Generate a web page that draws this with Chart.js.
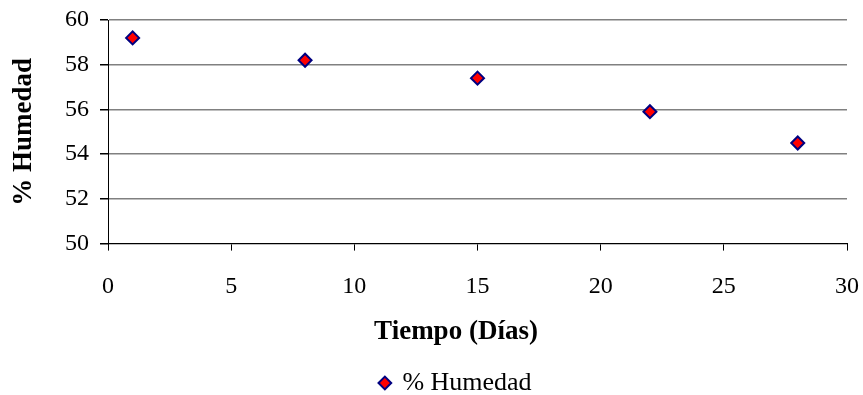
<!DOCTYPE html>
<html lang="es">
<head>
<meta charset="UTF-8">
<script src="https://cdn.jsdelivr.net/npm/chart.js"></script>
<style>
    html, body { margin: 0; padding: 0; background: #fff; }
    #wrap { position: relative; width: 863px; height: 395px; }
</style>
</head>
<body>
<div id="wrap"><canvas id="chart"></canvas></div>
<script>
    // datos
    const dias = [1, 8, 15, 22, 28];
    const humedad = [59.2, 58.2, 57.4, 55.9, 54.5];
    const xTicks = [0, 5, 10, 15, 20, 25, 30];
    const yTicks = [50, 52, 54, 56, 58, 60];

    const serif = '"Liberation Serif", "Times New Roman", serif';

    // el area del grafico queda fija: x 108..847, y 20..243
    const noPad = s => { s.paddingLeft = s.paddingRight = s.paddingTop = s.paddingBottom = 0; };

    new Chart(document.getElementById('chart'), {
        type: 'scatter',
        data: {
            datasets: [{
                label: '% Humedad',
                data: dias.map((d, i) => ({ x: d, y: humedad[i] })),
                pointStyle: 'rectRot',
                pointRadius: 6.5,
                pointHoverRadius: 6.5,
                backgroundColor: '#ff0000',
                borderColor: '#000080',
                borderWidth: 2
            }]
        },
        options: {
            responsive: true,
            maintainAspectRatio: false,
            animation: false,
            layout: { padding: { top: 20, right: 16, left: 65, bottom: -11 } },
            scales: {
                x: {
                    type: 'linear',
                    min: 0, max: 30,
                    afterBuildTicks: s => { s.ticks = xTicks.map(v => ({ value: v })); },
                    afterFit: s => { s.height = 60; noPad(s); },
                    grid: { drawOnChartArea: false, drawTicks: true, tickLength: 7, color: '#000' },
                    border: { color: '#000', width: 1 },
                    ticks: { color: '#000', font: { family: serif, size: 24 }, padding: 22, maxRotation: 0 }
                },
                y: {
                    min: 50, max: 60,
                    afterBuildTicks: s => { s.ticks = yTicks.map(v => ({ value: v })); },
                    afterFit: s => { s.width = 43; noPad(s); },
                    grid: { color: '#808080', lineWidth: 1.5, drawTicks: true, tickLength: 8, tickColor: '#000' },
                    border: { color: '#000', width: 1 },
                    ticks: { color: '#000', font: { family: serif, size: 24 }, padding: 11 },
                    title: {
                        display: true, text: '% Humedad', color: '#000',
                        font: { family: serif, size: 27, weight: 'bold' },
                        padding: { top: -57, bottom: 0 }
                    }
                }
            },
            plugins: {
                title: {
                    display: true,
                    position: 'bottom',
                    weight: 500,
                    text: 'Tiempo (Días)',
                    color: '#000',
                    font: { family: serif, size: 27, weight: 'bold' },
                    padding: { top: 12, bottom: 18 }
                },
                legend: {
                    position: 'bottom',
                    labels: {
                        color: '#000',
                        font: { family: serif, size: 26 },
                        usePointStyle: true,
                        boxWidth: 9,
                        boxHeight: 9,
                        padding: 4
                    }
                },
                tooltip: { enabled: false }
            }
        }
    });
</script>
</body>
</html>
